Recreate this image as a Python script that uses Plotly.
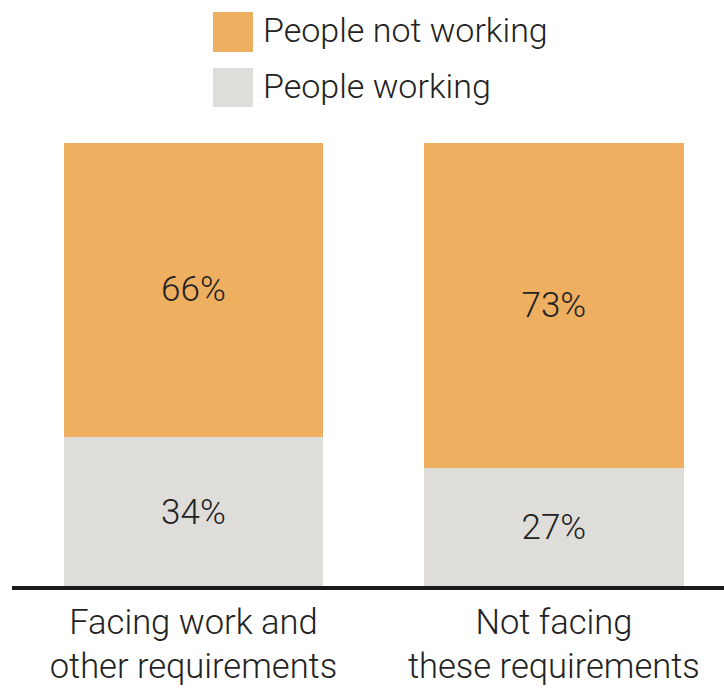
import plotly.graph_objects as go

categories = ["Facing work and<br>other requirements", "Not facing<br>these requirements"]
working = [34, 27]
not_working = [66, 73]
series_names = ["People working", "People not working"]
colors = {"People working": "#DFDDD9", "People not working": "#EEAF61"}

FONT = "Roboto, 'Liberation Sans', Arial, sans-serif"
TXT = "#222222"

W, H = 724, 688
ml, mr, mt, mb = 10, 0, 143, 100
pw, ph = W - ml - mr, H - mt - mb

def px2x(px):
    return (px - ml) / pw

def py2y(py):
    return (H - mb - py) / ph

fig = go.Figure()
for name, vals in [(series_names[0], working), (series_names[1], not_working)]:
    fig.add_trace(go.Bar(
        x=categories, y=vals, name=name,
        marker=dict(color=colors[name], line=dict(width=0)),
        width=0.72,
        text=[f"{v}%" for v in vals],
        textposition="inside", insidetextanchor="middle",
        textfont=dict(family=FONT, size=35, color=TXT, weight=300),
        hoverinfo="skip",
    ))

# baseline
fig.add_shape(type="line", xref="paper", yref="paper", x0=px2x(12), x1=1,
              y0=py2y(588), y1=py2y(588),
              line=dict(color="#1a1a1a", width=4), layer="above")

# custom legend (large swatches)
legend_items = [("People not working", 12, 52), ("People working", 68, 107)]
for name, top, bot in legend_items:
    fig.add_shape(type="rect", xref="paper", yref="paper",
                  x0=px2x(213), x1=px2x(253), y0=py2y(bot), y1=py2y(top),
                  fillcolor=colors[name], line=dict(width=0))
    fig.add_annotation(xref="paper", yref="paper", x=px2x(261), y=py2y((top + bot) / 2 - 2),
                       text=name, showarrow=False, xanchor="left", yanchor="middle",
                       font=dict(family=FONT, size=34, color=TXT, weight=300))

fig.update_layout(
    width=W, height=H,
    margin=dict(l=ml, r=mr, t=mt, b=mb, pad=0),
    barmode="stack",
    showlegend=False,
    plot_bgcolor="white", paper_bgcolor="white",
    uniformtext=dict(mode=False),
    xaxis=dict(range=[-0.509, 1.472], showgrid=False, zeroline=False, showline=False,
               ticks="", ticklabelstandoff=10,
               tickfont=dict(family=FONT, size=34.5, color=TXT, weight=300), fixedrange=True),
    yaxis=dict(range=[0, 100], visible=False, fixedrange=True),
)

fig.write_html("out.html")
